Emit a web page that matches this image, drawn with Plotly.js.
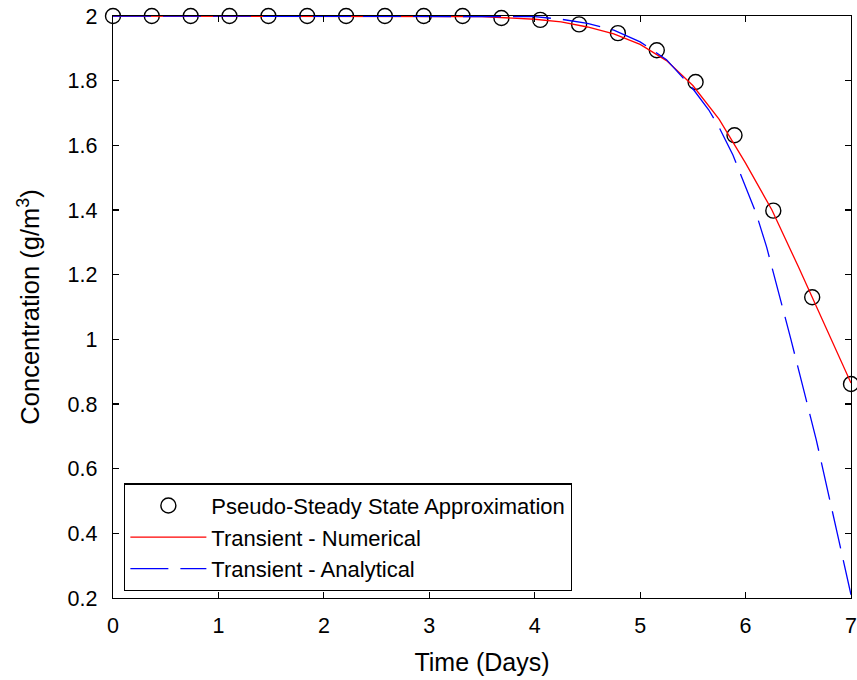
<!DOCTYPE html>
<html>
<head>
<meta charset="utf-8">
<script src="https://cdn.plot.ly/plotly-3.0.1.min.js"></script>
<style>html,body{margin:0;padding:0;background:#fff;}#chart{width:857px;height:680px;}</style>
</head>
<body>
<div id="chart"></div>
<script>
// Pseudo-steady state approximation (markers)
var pssDays = [0, 0.368, 0.737, 1.105, 1.474, 1.842, 2.211, 2.579, 2.947, 3.316, 3.684, 4.053, 4.421, 4.789, 5.158, 5.526, 5.895, 6.263, 6.632, 7.0];
var pssConc = [2, 2, 2, 2, 2, 2, 2, 2, 2, 2, 1.994, 1.988, 1.974, 1.947, 1.894, 1.796, 1.631, 1.398, 1.130, 0.862];

// Transient - Numerical (red solid)
var numDays = [0, 0.5, 1, 1.5, 2, 2.5, 3, 3.5, 4, 4.25, 4.5, 4.75, 5, 5.25, 5.5, 5.75, 6, 6.25, 6.5, 6.75, 7];
var numConc = [2, 2, 2, 2, 2, 2, 2, 1.998, 1.99, 1.982, 1.966, 1.945, 1.912, 1.862, 1.785, 1.68, 1.545, 1.40, 1.225, 1.045, 0.865];

// Transient - Analytical (blue dashed)
var anaDays = [0, 0.5, 1, 1.5, 2, 2.5, 3, 3.5, 4, 4.25, 4.5, 4.75, 5, 5.25, 5.5, 5.65, 5.75, 5.88, 6, 6.1, 6.2, 6.27, 6.43, 6.55, 6.67, 6.87, 7];
var anaConc = [2, 2, 2, 2, 2, 2, 2, 2, 1.998, 1.99, 1.977, 1.956, 1.92, 1.865, 1.775, 1.71, 1.655, 1.57, 1.475, 1.39, 1.285, 1.2, 1.0, 0.845, 0.69, 0.40, 0.21];

var seriesNames = ['Pseudo-Steady State Approximation', 'Transient - Numerical', 'Transient - Analytical'];
var xTitle = 'Time (Days)';
var yTitle = 'Concentration (g/m<sup>3</sup>)';

var FONT = 'Liberation Sans, Arial, sans-serif';

var traces = [
  {
    x: pssDays, y: pssConc, name: seriesNames[0], type: 'scatter', mode: 'markers',
    marker: {symbol: 'circle-open', size: 15, color: '#000', line: {width: 1.4, color: '#000'}},
    cliponaxis: false
  },
  {
    x: numDays, y: numConc, name: seriesNames[1], type: 'scatter', mode: 'lines',
    line: {color: '#ff0000', width: 1.3}
  },
  {
    x: anaDays, y: anaConc, name: seriesNames[2], type: 'scatter', mode: 'lines',
    line: {color: '#0000ff', width: 1.3, dash: '38px,12px'}
  }
];

var axisCommon = {
  showgrid: false, zeroline: false, showline: true, linecolor: '#000', linewidth: 1.3,
  mirror: 'ticks', ticks: 'inside', ticklen: 6, tickwidth: 1.2, tickcolor: '#000',
  tickfont: {family: FONT, size: 21.5, color: '#000'}
};

var layout = {
  width: 857, height: 680,
  margin: {l: 113, r: 6, t: 16, b: 82},
  paper_bgcolor: '#fff', plot_bgcolor: '#fff',
  font: {family: FONT, color: '#000'},
  showlegend: true,
  xaxis: Object.assign({}, axisCommon, {
    range: [0, 7], dtick: 1, tick0: 0, ticklabelstandoff: 8,
    title: {text: xTitle, font: {family: FONT, size: 25, color: '#000'}, standoff: 16}
  }),
  yaxis: Object.assign({}, axisCommon, {
    range: [0.2, 2], dtick: 0.2, tick0: 0, ticklabelstandoff: 10,
    title: {text: yTitle, font: {family: FONT, size: 25.5, color: '#000'}, standoff: 20}
  }),
  legend: {
    x: 0.015, y: 0.197, xanchor: 'left', yanchor: 'top',
    bgcolor: '#fff', bordercolor: '#000', borderwidth: 1.3,
    font: {family: FONT, size: 22, color: '#000'},
    itemwidth: 76, tracegroupgap: 0
  }
};

Plotly.newPlot('chart', traces, layout, {displayModeBar: false, staticPlot: true});
</script>
</body>
</html>
